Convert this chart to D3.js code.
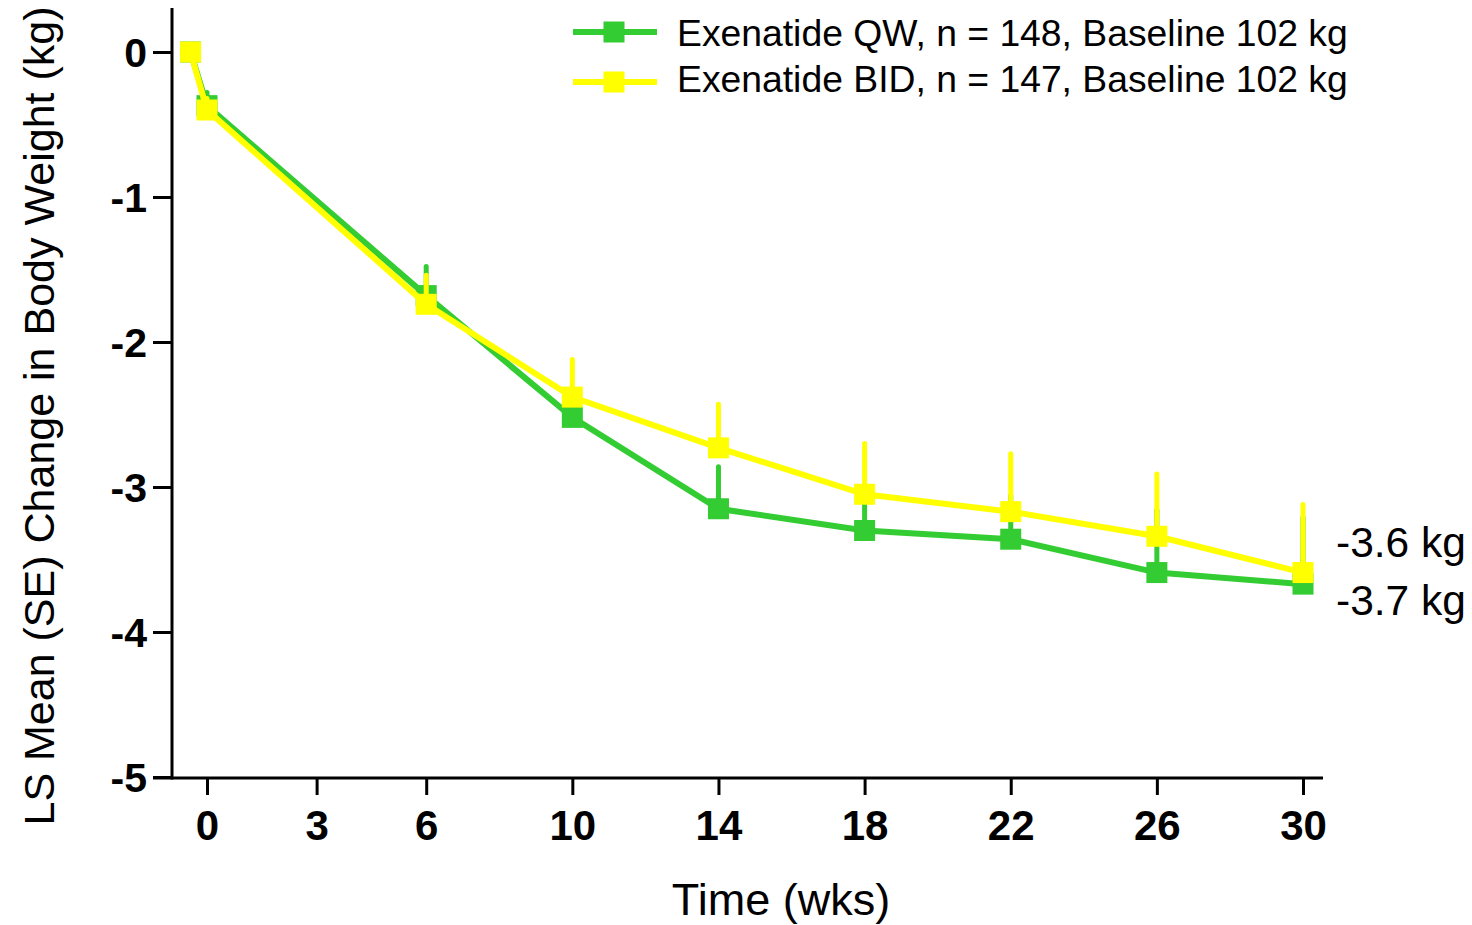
<!DOCTYPE html>
<html>
<head>
<meta charset="utf-8">
<script src="https://cdn.jsdelivr.net/npm/d3@7/dist/d3.min.js"></script>
<style>
  html, body { margin: 0; padding: 0; background: #fff; }
  svg { display: block; font-family: "Liberation Sans", Arial, sans-serif; }
</style>
</head>
<body>
<svg id="chart" width="1472" height="925"></svg>
<script>
// ---- data ----
const weeks = [-0.45, 0, 6, 10, 14, 18, 22, 26, 30];
const xTickValues = [0, 3, 6, 10, 14, 18, 22, 26, 30];
const yTickValues = [0, -1, -2, -3, -4, -5];
const qwMean = [0, -0.37, -1.68, -2.52, -3.15, -3.30, -3.36, -3.59, -3.67];
const qwSE   = [0, 0.09, 0.20, 0.20, 0.29, 0.30, 0.30, 0.43, 0.46];
const bidMean = [0, -0.40, -1.74, -2.38, -2.73, -3.05, -3.17, -3.34, -3.59];
const bidSE   = [0, 0.08, 0.20, 0.26, 0.30, 0.35, 0.40, 0.43, 0.47];
const seriesNames = ["Exenatide QW, n = 148, Baseline 102 kg", "Exenatide BID, n = 147, Baseline 102 kg"];
const endLabels = ["-3.6 kg", "-3.7 kg"];
const colors = ["#33CC33", "#FFFF00"];

const svg = d3.select("#chart");
const x = d3.scaleLinear().domain([0, 30]).range([207, 1303]);
const y = d3.scaleLinear().domain([0, -5]).range([52, 777]);

const axisX0 = 172, axisY0 = 778;
const fmt = d => String(d); // plain hyphen-minus like the reference

// axes lines
svg.append("line").attr("x1", axisX0).attr("x2", axisX0).attr("y1", 8).attr("y2", axisY0 + 1.5)
  .attr("stroke", "#000").attr("stroke-width", 3);
svg.append("line").attr("x1", 153).attr("x2", 1323).attr("y1", axisY0).attr("y2", axisY0)
  .attr("stroke", "#000").attr("stroke-width", 3);

// y axis
const yAxis = d3.axisLeft(y).tickValues(yTickValues).tickSize(19).tickSizeOuter(0).tickPadding(6)
  .tickFormat(fmt);
const gy = svg.append("g").attr("transform", `translate(${axisX0},0)`).call(yAxis);
gy.select(".domain").remove();
gy.selectAll(".tick line").attr("stroke", "#000").attr("stroke-width", 3);
gy.selectAll(".tick text").attr("font-size", 41).attr("font-weight", "bold").attr("fill", "#000")
  .attr("font-family", "Liberation Sans, Arial, sans-serif").attr("dy", "0.36em");

// x axis
const xAxis = d3.axisBottom(x).tickValues(xTickValues).tickSize(17).tickSizeOuter(0).tickPadding(15)
  .tickFormat(fmt);
const gx = svg.append("g").attr("transform", `translate(0,${axisY0})`).call(xAxis);
gx.select(".domain").remove();
gx.selectAll(".tick line").attr("stroke", "#000").attr("stroke-width", 3);
gx.selectAll(".tick text").attr("font-size", 42).attr("font-weight", "bold").attr("fill", "#000")
  .attr("font-family", "Liberation Sans, Arial, sans-serif");

// titles
svg.append("text").attr("x", 781).attr("y", 915).attr("text-anchor", "middle")
  .attr("font-size", 45).text("Time (wks)");
svg.append("text").attr("transform", "translate(54,416) rotate(-90)").attr("text-anchor", "middle")
  .attr("font-size", 43).text("LS Mean (SE) Change in Body Weight (kg)");

// series
const series = [
  { mean: qwMean, se: qwSE, color: colors[0] },
  { mean: bidMean, se: bidSE, color: colors[1] }
];
const line = d3.line().x(d => x(d.w)).y(d => y(d.m));
const sq = 21;
series.forEach(s => {
  const pts = weeks.map((w, i) => ({ w, m: s.mean[i], se: s.se[i] }));
  const g = svg.append("g");
  g.append("path").datum(pts).attr("d", line).attr("fill", "none")
    .attr("stroke", s.color).attr("stroke-width", 6).attr("stroke-linejoin", "miter");
  g.selectAll("line.err").data(pts.filter(p => p.se > 0)).enter().append("line")
    .attr("x1", p => x(p.w)).attr("x2", p => x(p.w))
    .attr("y1", p => y(p.m)).attr("y2", p => y(p.m + p.se))
    .attr("stroke", s.color).attr("stroke-width", 5).attr("stroke-linecap", "round");
  g.selectAll("rect").data(pts).enter().append("rect")
    .attr("x", p => x(p.w) - sq / 2).attr("y", p => y(p.m) - sq / 2)
    .attr("width", sq).attr("height", sq).attr("fill", s.color);
});

// legend
const legY = [32, 82];
const legTextY = [46, 92];
seriesNames.forEach((name, i) => {
  svg.append("line").attr("x1", 573).attr("x2", 657).attr("y1", legY[i]).attr("y2", legY[i])
    .attr("stroke", colors[i]).attr("stroke-width", 6);
  svg.append("rect").attr("x", 614 - sq / 2).attr("y", legY[i] - sq / 2).attr("width", sq).attr("height", sq)
    .attr("fill", colors[i]);
  svg.append("text").attr("x", 677).attr("y", legTextY[i]).attr("font-size", 37.3).text(name);
});

// end labels
const endY = [557, 615];
endLabels.forEach((t, i) => {
  svg.append("text").attr("x", 1336).attr("y", endY[i]).attr("font-size", 42.5).text(t);
});
</script>
</body>
</html>
